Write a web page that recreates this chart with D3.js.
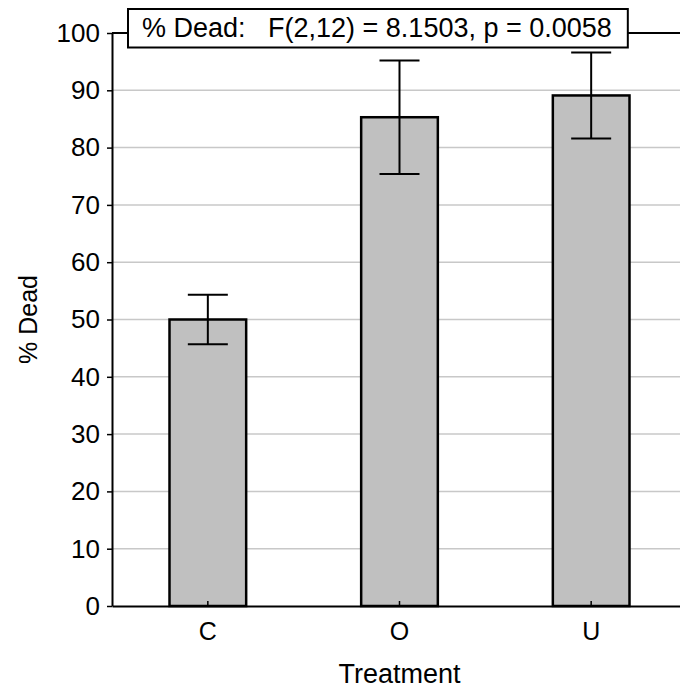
<!DOCTYPE html>
<html>
<head>
<meta charset="utf-8">
<script src="https://cdn.jsdelivr.net/npm/d3@7"></script>
<style>
  body { margin: 0; background: #fff; }
  svg { display: block; font-family: "Liberation Sans", Arial, sans-serif; }
</style>
</head>
<body>
<div id="chart"></div>
<script>
const categories = ["C", "O", "U"];
const means = [50.0, 85.3, 89.1];
const errors = [4.3, 9.9, 7.5];
const yTicks = [0, 10, 20, 30, 40, 50, 60, 70, 80, 90, 100];
const titleText = "% Dead:   F(2,12) = 8.1503, p = 0.0058";

const width = 680, height = 689;
const margin = { top: 33, right: -7, bottom: 83, left: 112 };

const svg = d3.select("#chart").append("svg")
    .attr("width", width)
    .attr("height", height);

const x = d3.scaleBand()
    .domain(categories)
    .range([margin.left, width - margin.right])
    .paddingInner(0.6)
    .paddingOuter(0.3);

const y = d3.scaleLinear()
    .domain([0, 100])
    .range([height - margin.bottom, margin.top]);

// gridlines
svg.append("g")
    .selectAll("line")
    .data(yTicks.filter(d => d > 0 && d < 100))
    .join("line")
      .attr("x1", margin.left)
      .attr("x2", width - margin.right)
      .attr("y1", d => y(d))
      .attr("y2", d => y(d))
      .attr("stroke", "#c8c8c8")
      .attr("stroke-width", 1.5);

// top frame
svg.append("line")
    .attr("x1", margin.left)
    .attr("x2", width - margin.right)
    .attr("y1", y(100))
    .attr("y2", y(100))
    .attr("stroke", "#000")
    .attr("stroke-width", 1.8);

// bars
const rows = categories.map((c, i) => ({ cat: c, mean: means[i], err: errors[i] }));

svg.append("g")
    .selectAll("rect")
    .data(rows)
    .join("rect")
      .attr("x", d => x(d.cat))
      .attr("y", d => y(d.mean))
      .attr("width", x.bandwidth())
      .attr("height", d => y(0) - y(d.mean))
      .attr("fill", "#c0c0c0")
      .attr("stroke", "#000")
      .attr("stroke-width", 2.5);

// error bars
const capW = 40;
const eb = svg.append("g").attr("stroke", "#000").attr("stroke-width", 2);
rows.forEach(d => {
    const cx = x(d.cat) + x.bandwidth() / 2;
    eb.append("line")
        .attr("x1", cx).attr("x2", cx)
        .attr("y1", y(d.mean + d.err)).attr("y2", y(d.mean - d.err));
    [d.mean + d.err, d.mean - d.err].forEach(v => {
        eb.append("line")
            .attr("x1", cx - capW / 2).attr("x2", cx + capW / 2)
            .attr("y1", y(v)).attr("y2", y(v));
    });
});

// y axis
const yAxis = svg.append("g")
    .attr("transform", `translate(${margin.left},0)`)
    .call(d3.axisLeft(y).tickValues(yTicks).tickSize(5).tickSizeOuter(0));
yAxis.select(".domain").attr("stroke-width", 2);
yAxis.selectAll(".tick line").attr("stroke-width", 1.5);
yAxis.selectAll(".tick text")
    .attr("x", -12)
    .attr("fill", "#000")
    .style("font-size", "26px");

// x axis
const xAxis = svg.append("g")
    .attr("transform", `translate(0,${y(0)})`)
    .call(d3.axisBottom(x).tickSize(-5).tickSizeOuter(0));
xAxis.select(".domain").attr("stroke-width", 2);
xAxis.selectAll(".tick line").attr("stroke-width", 1.5);
xAxis.selectAll(".tick text")
    .attr("y", 16)
    .attr("fill", "#000")
    .style("font-size", "25px");

// axis titles
svg.append("text")
    .attr("transform", `translate(37,${(y(0) + y(100)) / 2}) rotate(-90)`)
    .attr("text-anchor", "middle")
    .style("font-size", "25px")
    .text("% Dead");

svg.append("text")
    .attr("x", (margin.left + width - margin.right) / 2)
    .attr("y", 683)
    .attr("text-anchor", "middle")
    .style("font-size", "27px")
    .text("Treatment");

// title box
const tb = svg.append("g");
const tt = tb.append("text")
    .attr("x", 142)
    .attr("y", 37)
    .style("font-size", "27px")
    .style("white-space", "pre")
    .attr("xml:space", "preserve")
    .text(titleText);
const bb = tt.node().getBBox();
tb.insert("rect", "text")
    .attr("x", 128)
    .attr("y", 9)
    .attr("width", bb.x + bb.width + 16 - 128)
    .attr("height", 38.5)
    .attr("fill", "#fff")
    .attr("stroke", "#000")
    .attr("stroke-width", 2);
</script>
</body>
</html>
